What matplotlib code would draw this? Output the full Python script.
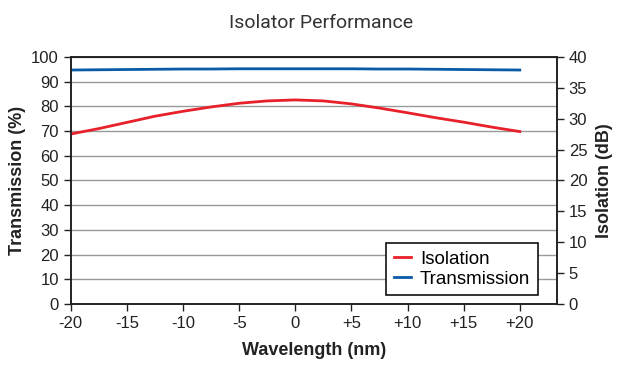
import numpy as np
from matplotlib import pyplot as plt

plt.rcParams['font.family'] = ['Liberation Sans', 'DejaVu Sans']

wavelength = [-20, -17.5, -15, -12.5, -10, -7.5, -5, -2.5, 0,
              2.5, 5, 7.5, 10, 12.5, 15, 17.5, 20]
isolation_db = [27.52, 28.4, 29.4, 30.4, 31.2, 31.9, 32.5, 32.88, 33.04,
                32.88, 32.4, 31.72, 30.96, 30.16, 29.44, 28.64, 27.92]
transmission = [94.7, 94.8, 94.9, 95.0, 95.1, 95.1, 95.2, 95.2, 95.2,
                95.2, 95.2, 95.1, 95.1, 95.0, 94.9, 94.8, 94.7]
xticks = [-20, -15, -10, -5, 0, 5, 10, 15, 20]
xtick_labels = ['-20', '-15', '-10', '-5', '0', '+5', '+10', '+15', '+20']

red = '#e8202a'
blue = '#0a5aa8'

fig = plt.figure(figsize=(6.43, 3.82), dpi=100)
ax = fig.add_axes([0.110, 0.204, 0.756, 0.647])
ax2 = ax.twinx()

l2, = ax.plot(wavelength, transmission, color=blue, lw=2, label='Transmission')
l1, = ax2.plot(wavelength, isolation_db, color=red, lw=2, label='Isolation')

ax.set_xlim(-20, 23.3)
ax.set_ylim(0, 100)
ax2.set_ylim(0, 40)
ax.set_xticks(xticks)
ax.set_xticklabels(xtick_labels)
ax.set_yticks(np.arange(0, 101, 10))
ax2.set_yticks(np.arange(0, 41, 5))
ax.yaxis.grid(True, color='#999999', lw=1)
ax.set_axisbelow(True)

for a in (ax, ax2):
    a.tick_params(labelsize=12, colors='#222222', length=5, width=1, direction='out')
    for s in a.spines.values():
        s.set_color('#222222')
        s.set_linewidth(1.2)

ax.set_xlabel('Wavelength (nm)', fontsize=13, fontweight='bold', color='#222222', labelpad=8)
ax.set_ylabel('Transmission (%)', fontsize=13, fontweight='bold', color='#222222', labelpad=4)
ax2.set_ylabel('Isolation (dB)', fontsize=13, fontweight='bold', color='#222222', labelpad=6)
fig.text(0.5, 0.94, 'Isolator Performance', ha='center', va='center', fontsize=14,
         family=['Roboto', 'DejaVu Sans'], fontweight='normal', color='#333333')

leg = ax2.legend(handles=[l1, l2], loc='lower right', bbox_to_anchor=(0.961, 0.036),
                 borderaxespad=0, fontsize=13.5, frameon=True, fancybox=False,
                 framealpha=1, handlelength=0.9, handletextpad=0.5,
                 borderpad=0.4, labelspacing=0.15)
leg.get_frame().set_edgecolor('#111111')
leg.get_frame().set_linewidth(1.2)

fig.savefig('out.png', dpi=100)
